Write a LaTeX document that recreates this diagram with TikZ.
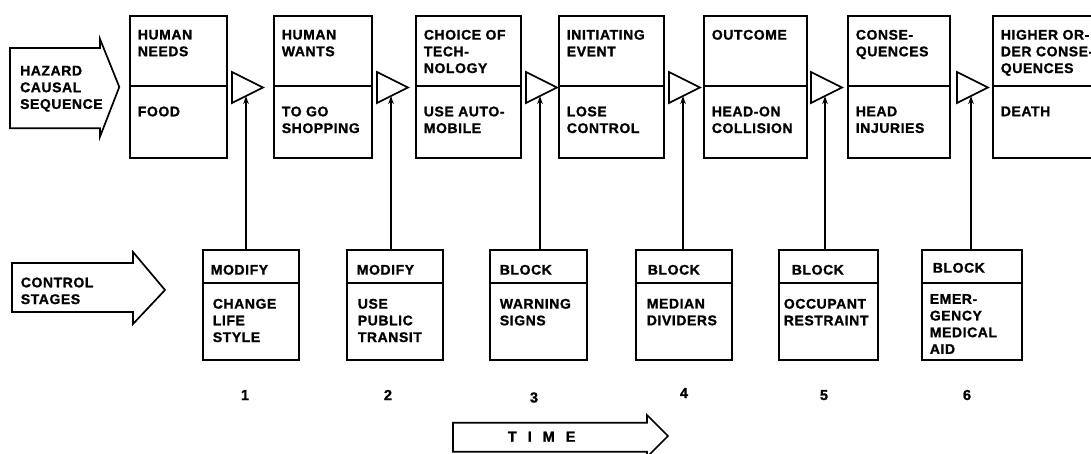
\documentclass[tikz,border=0pt]{standalone}
\usepackage{fontspec}
\newfontfamily\hf{Liberation Sans Bold}[LetterSpace=4, FakeBold=1.2]
\newfontfamily\hft{Liberation Sans Bold}[LetterSpace=48, FakeBold=1.2]
\usetikzlibrary{arrows.meta}
\begin{document}
\begin{tikzpicture}[x=1pt,y=-1pt,
  line width=1.7pt,
  boxst/.style={draw, inner sep=0pt, anchor=north west},
  txt/.style={anchor=north west, inner sep=0pt, align=left,
    font=\hf\fontsize{14}{16.7}\selectfont},
  numst/.style={anchor=base, inner sep=0pt,
    font=\hf\fontsize{14.5}{16.7}\selectfont},
  conn/.style={-{Stealth[length=8pt,width=5.5pt]}},
  tri/.style={draw, line join=miter},
  bigarrow/.style={draw, line join=miter}]
\useasboundingbox (0,0) rectangle (1091,453);
\clip (0,0) rectangle (1091,453);

% hazard causal sequence arrow
\draw[bigarrow] (10,48) -- (100,48) -- (100,39) -- (119.3,87) -- (100,136.7)
  -- (100,128.3) -- (10,128.3) -- cycle;
\node[txt] (hazard) at (19.3,65) {HAZARD\\CAUSAL\\SEQUENCE};

% control stages arrow
\draw[bigarrow] (12,263) -- (133,263) -- (133,252) -- (165,290) -- (133,324)
  -- (133,312) -- (12,312) -- cycle;
\node[txt] (control) at (20,276.7) {CONTROL\\STAGES};

% top boxes
\foreach \l/\r/\n/\a/\b in {
  129/226/h1/{HUMAN\\NEEDS}/{FOOD},
  273/371/h2/{HUMAN\\WANTS}/{TO GO\\SHOPPING},
  415/520/h3/{CHOICE OF\\TECH-\\NOLOGY}/{USE AUTO-\\MOBILE},
  558/663/h4/{INITIATING\\EVENT}/{LOSE\\CONTROL},
  703/806/h5/{OUTCOME}/{HEAD-ON\\COLLISION},
  847/949/h6/{CONSE-\\QUENCES}/{HEAD\\INJURIES},
  992/1110/h7/{HIGHER OR-\\DER CONSE-\\QUENCES}/{DEATH}}{
  \node[boxst, minimum width={(\r-\l)*1pt}, minimum height=142pt] (\n) at (\l,15) {};
  \draw (\n.west |- 0,86) -- (\n.east |- 0,86);
  \node[txt] (\n-a) at (\l+8,29) {\a};
  \node[txt] (\n-b) at (\l+8,105.7) {\b};
}

% triangles
\foreach \L/\n in {232/t1,377/t2,526/t3,669/t4,811/t5,957/t6}{
  \draw[tri] (\L,72) -- (\L+31,87.5) -- (\L,103) -- cycle;
  \coordinate (\n) at (\L+14,96);
}

% bottom boxes
\foreach \l/\r/\n/\ia/\ib/\ya/\yb/\a/\b in {
  202/298/c1/8/10/264/298/{MODIFY}/{CHANGE\\LIFE\\STYLE},
  346/442/c2/10/11/264/298/{MODIFY}/{USE\\PUBLIC\\TRANSIT},
  489/586/c3/10/10/264/298/{BLOCK}/{WARNING\\SIGNS},
  635/731/c4/12/11/264/298/{BLOCK}/{MEDIAN\\DIVIDERS},
  778/877/c5/13/5/264/298/{BLOCK}/{OCCUPANT\\RESTRAINT},
  921/1021/c6/11/8/262/293.3/{BLOCK}/{EMER-\\GENCY\\MEDICAL\\AID}}{
  \node[boxst, minimum width={(\r-\l)*1pt}, minimum height=110pt] (\n) at (\l,249) {};
  \draw (\n.west |- 0,283) -- (\n.east |- 0,283);
  \node[txt] (\n-a) at (\l+\ia,\ya) {\a};
  \node[txt] (\n-b) at (\l+\ib,\yb) {\b};
}

% connectors
\foreach \i in {1,...,6}{
  \draw[conn] (c\i.north -| t\i) -- (t\i);
}

% stage numbers
\node[numst] (n1) at (245,400) {1};
\node[numst] (n2) at (388,400) {2};
\node[numst] (n3) at (534,402.5) {3};
\node[numst] (n4) at (684,398) {4};
\node[numst] (n5) at (824,400) {5};
\node[numst] (n6) at (967,400) {6};

% time arrow
\draw[bigarrow] (453,422.7) -- (647,422.7) -- (647,415) -- (668,436) -- (647,457)
  -- (647,451.7) -- (453,451.7) -- cycle;
\node[anchor=base west, inner sep=0pt, font=\hft\fontsize{14.5}{16.7}\selectfont]
  (time) at (507,441.7) {T I M E};
\end{tikzpicture}
\end{document}
